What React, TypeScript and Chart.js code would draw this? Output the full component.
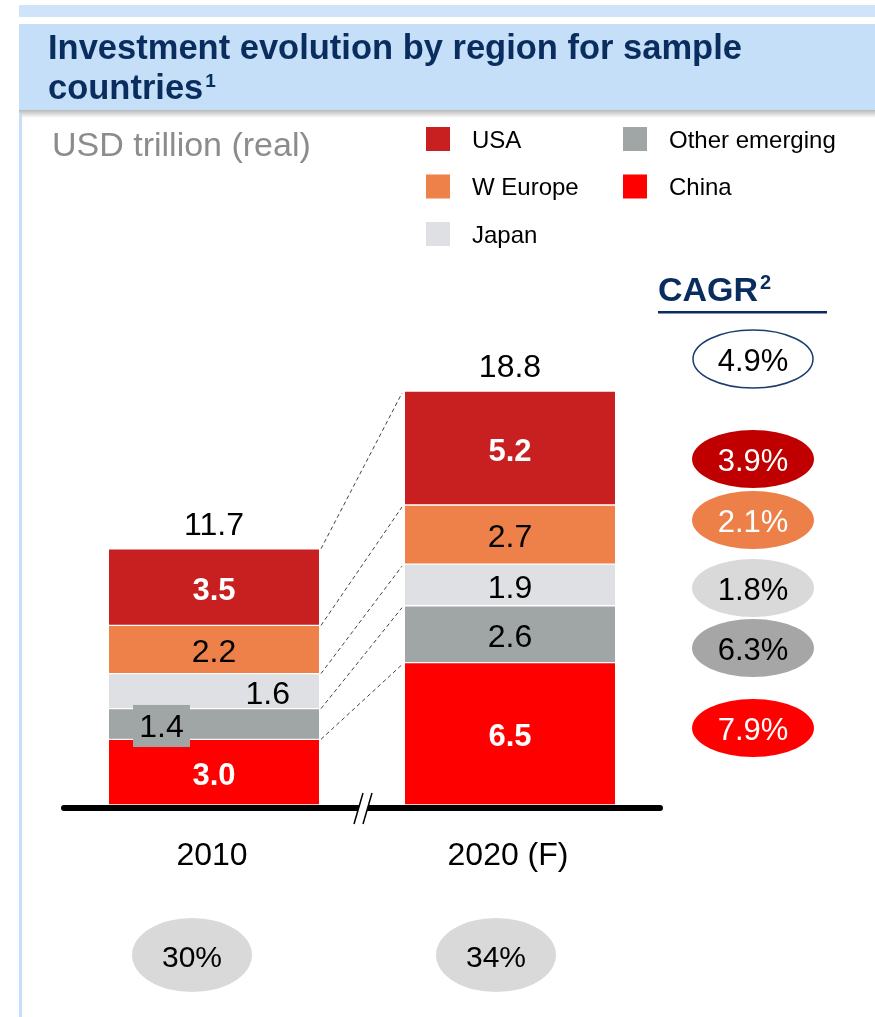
import React, { useEffect, useRef } from "react";
import { Chart, registerables } from "chart.js";

Chart.register(...registerables);

// ---- data ----
const categories = ["2010", "2020 (F)"];
const regions = ["China", "Other emerging", "Japan", "W Europe", "USA"]; // stack order, bottom -> top
const china = [3.0, 6.5];
const otherEmerging = [1.4, 2.6];
const japan = [1.6, 1.9];
const wEurope = [2.2, 2.7];
const usa = [3.5, 5.2];
const totals = [11.7, 18.8];
const totalCagr = "4.9%";
const regionCagr = ["7.9%", "6.3%", "1.8%", "2.1%", "3.9%"]; // same order as regions
const shareLabels = ["30%", "34%"];

// ---- styles ----
const FONT = '"Liberation Sans", Arial, Helvetica, sans-serif';
const NAVY = "#0a2d5f";
const barColors = ["#ff0000", "#a0a6a6", "#dfe0e3", "#ee8049", "#c82020"];
const cagrFill = ["#ff0000", "#a6a6a6", "#d9d9d9", "#ed8049", "#c00000"];
const cagrText = ["#ffffff", "#000000", "#000000", "#ffffff", "#ffffff"];
const cagrY = [728, 648, 588, 520, 459];

const decorPlugin = {
  id: "decor",
  beforeDraw(chart: any) {
    const { ctx, width, height } = chart;
    ctx.save();
    ctx.fillStyle = "#ffffff";
    ctx.fillRect(0, 0, width, height);

    // header band
    ctx.fillStyle = "#cfe3f9";
    ctx.fillRect(19, 5, width - 19, 12);
    ctx.fillStyle = "#c6dff8";
    ctx.fillRect(19, 24, width - 19, 86);
    const g = ctx.createLinearGradient(0, 110, 0, 118);
    g.addColorStop(0, "rgba(0,0,0,0.28)");
    g.addColorStop(1, "rgba(0,0,0,0)");
    ctx.fillStyle = g;
    ctx.fillRect(19, 110, width - 19, 8);
    // left rule
    ctx.fillStyle = "#c6dff8";
    ctx.fillRect(19, 114, 3, height - 114);

    // title
    ctx.fillStyle = NAVY;
    ctx.textBaseline = "alphabetic";
    ctx.textAlign = "left";
    ctx.font = `bold 34.5px ${FONT}`;
    ctx.fillText("Investment evolution by region for sample", 48, 59);
    ctx.fillText("countries", 48, 99);
    const cw = ctx.measureText("countries").width;
    ctx.font = `bold 19px ${FONT}`;
    ctx.fillText("1", 48 + cw + 2, 87);

    // unit
    ctx.fillStyle = "#8c8c8c";
    ctx.font = `34px ${FONT}`;
    ctx.fillText("USD trillion (real)", 52, 156);

    // legend
    const ds = chart.data.datasets;
    const cols = [
      { x: 426, items: [4, 3, 2] },
      { x: 623, items: [1, 0] },
    ];
    ctx.font = `24px ${FONT}`;
    ctx.textBaseline = "middle";
    cols.forEach((c) => {
      c.items.forEach((di, r) => {
        const top = 127 + r * 47.5;
        ctx.fillStyle = ds[di].backgroundColor;
        ctx.fillRect(c.x, top, 24, 24);
        ctx.fillStyle = "#000";
        ctx.fillText(ds[di].label, c.x + 46, top + 14);
      });
    });

    // CAGR header
    ctx.fillStyle = NAVY;
    ctx.textBaseline = "alphabetic";
    ctx.font = `bold 34px ${FONT}`;
    ctx.fillText("CAGR", 658, 301);
    const gw = ctx.measureText("CAGR").width;
    ctx.font = `bold 20px ${FONT}`;
    ctx.fillText("2", 658 + gw + 2, 289);
    ctx.fillRect(658, 311, 169, 2.5);
    ctx.restore();
  },
  afterDatasetsDraw(chart: any) {
    const { ctx, chartArea } = chart;
    const metas = chart.data.datasets.map((_: any, i: number) => chart.getDatasetMeta(i));
    ctx.save();

    // dashed connectors
    ctx.strokeStyle = "#444";
    ctx.lineWidth = 1;
    ctx.setLineDash([4, 3]);
    metas.forEach((m: any) => {
      const a = m.data[0];
      const b = m.data[1];
      ctx.beginPath();
      ctx.moveTo(a.x + a.width / 2 + 2, a.y);
      ctx.lineTo(b.x - b.width / 2 - 3, b.y + 2);
      ctx.stroke();
    });
    ctx.setLineDash([]);

    // segment labels
    ctx.textAlign = "center";
    ctx.textBaseline = "middle";
    metas.forEach((m: any, di: number) => {
      const values = chart.data.datasets[di].data;
      m.data.forEach((el: any, j: number) => {
        const txt = Number(values[j]).toFixed(1);
        const cy = (el.y + el.base) / 2 + 4;
        const bold = di === 0 || di === 4;
        ctx.font = `${bold ? "bold " : ""}${bold ? 31 : 32}px ${FONT}`;
        ctx.fillStyle = bold ? "#ffffff" : "#000000";
        if (j === 0 && di === 1) {
          const bx = el.x - el.width / 2 + 24;
          ctx.fillStyle = barColors[1];
          ctx.fillRect(bx, cy - 23, 57, 42);
          ctx.fillStyle = "#000";
          ctx.fillText(txt, bx + 28.5, cy);
        } else if (j === 0 && di === 2) {
          ctx.textAlign = "right";
          ctx.fillText(txt, el.x + el.width / 2 - 29, cy);
          ctx.textAlign = "center";
        } else {
          ctx.fillText(txt, el.x, cy);
        }
      });
    });

    // totals
    ctx.font = `32px ${FONT}`;
    ctx.fillStyle = "#000";
    metas[4].data.forEach((el: any, j: number) => {
      ctx.fillText(totals[j].toFixed(1), el.x, el.y - 23);
    });

    // axis
    const y0 = chart.scales.y.getPixelForValue(0) + 3;
    ctx.strokeStyle = "#000";
    ctx.lineWidth = 6;
    ctx.lineCap = "round";
    ctx.beginPath();
    ctx.moveTo(chartArea.left - 2, y0);
    ctx.lineTo(chartArea.right + 2, y0);
    ctx.stroke();
    ctx.lineCap = "butt";
    // axis break
    const bxm = (metas[0].data[0].x + metas[0].data[1].x) / 2;
    ctx.fillStyle = "#fff";
    ctx.beginPath();
    ctx.moveTo(bxm - 8, y0 + 16);
    ctx.lineTo(bxm + 1, y0 - 15);
    ctx.lineTo(bxm + 10, y0 - 15);
    ctx.lineTo(bxm + 1, y0 + 16);
    ctx.closePath();
    ctx.fill();
    ctx.lineWidth = 1.5;
    ctx.beginPath();
    ctx.moveTo(bxm - 8, y0 + 16);
    ctx.lineTo(bxm + 1, y0 - 15);
    ctx.moveTo(bxm + 1, y0 + 16);
    ctx.lineTo(bxm + 10, y0 - 15);
    ctx.stroke();

    // category labels
    ctx.font = `32px ${FONT}`;
    ctx.fillStyle = "#000";
    const xs = chart.scales.x;
    categories.forEach((c, j) => {
      ctx.fillText(c, xs.getPixelForValue(j) - 2, 856);
    });

    // share ellipses
    const shareOffset = [-22, -14];
    shareLabels.forEach((s, j) => {
      const cx = xs.getPixelForValue(j) + shareOffset[j];
      ctx.fillStyle = "#d9d9d9";
      ctx.beginPath();
      ctx.ellipse(cx, 955, 60, 37, 0, 0, Math.PI * 2);
      ctx.fill();
      ctx.fillStyle = "#000";
      ctx.font = `30px ${FONT}`;
      ctx.fillText(s, cx, 959);
    });

    // CAGR ellipses
    const ex = 753;
    ctx.font = `31px ${FONT}`;
    ctx.beginPath();
    ctx.ellipse(ex, 359, 60, 29, 0, 0, Math.PI * 2);
    ctx.fillStyle = "#fff";
    ctx.fill();
    ctx.strokeStyle = "#1a3d6e";
    ctx.lineWidth = 1.5;
    ctx.stroke();
    ctx.fillStyle = "#000";
    ctx.fillText(totalCagr, ex, 362);
    regionCagr.forEach((t, i) => {
      ctx.beginPath();
      ctx.ellipse(ex, cagrY[i], 61, 29, 0, 0, Math.PI * 2);
      ctx.fillStyle = cagrFill[i];
      ctx.fill();
      ctx.fillStyle = cagrText[i];
      ctx.fillText(t, ex, cagrY[i] + 3);
    });

    ctx.restore();
  },
};

export default function App() {
  const ref = useRef<HTMLCanvasElement | null>(null);
  useEffect(() => {
    if (!ref.current) return;
    const series = [china, otherEmerging, japan, wEurope, usa];
    const chart = new Chart(ref.current, {
      type: "bar",
      data: {
        labels: categories,
        datasets: regions.map((r, i) => ({
          label: r,
          data: series[i],
          backgroundColor: barColors[i],
          borderColor: "#ffffff",
          borderWidth: { top: 1, bottom: 1, left: 0, right: 0 },
          borderSkipped: false,
          barThickness: 210,
        })),
      },
      options: {
        responsive: false,
        animation: false,
        devicePixelRatio: 1,
        layout: { padding: { left: 66, right: 217, top: 367, bottom: 212 } },
        plugins: { legend: { display: false }, tooltip: { enabled: false }, title: { display: false } },
        scales: {
          x: { stacked: true, display: false, grid: { display: false } },
          y: { stacked: true, display: false, min: 0, max: 20, grid: { display: false } },
        },
      },
      plugins: [decorPlugin],
    });
    return () => chart.destroy();
  }, []);
  return (
    <div style={{ position: "fixed", left: 0, top: 0, width: 875, height: 1017, background: "#fff" }}>
      <canvas ref={ref} width={875} height={1017} style={{ display: "block", width: 875, height: 1017 }} />
    </div>
  );
}
